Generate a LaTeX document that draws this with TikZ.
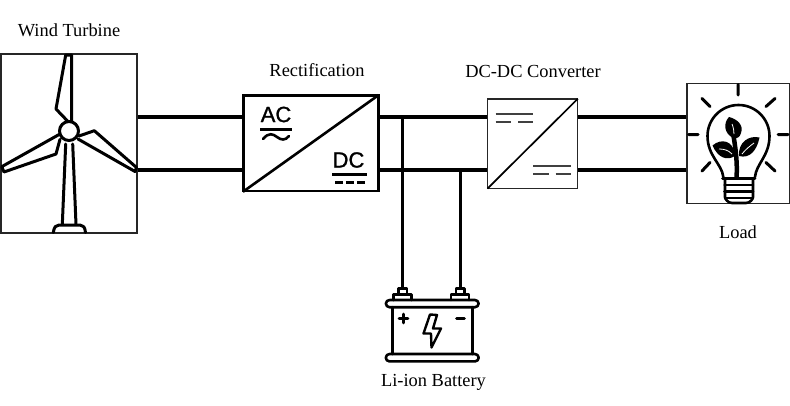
\documentclass[tikz,border=0pt]{standalone}
\usepackage{fontspec}
\setmainfont{Liberation Serif}
\newfontfamily\codefont[FakeBold=1.2]{Liberation Sans}
\begin{document}
\begin{tikzpicture}[x=1pt,y=-1pt,
  label text/.style={font=\fontsize{18.4}{20}\selectfont,inner sep=0pt},
  unit/.style={draw=black!85,line width=1.5pt},
  bus/.style={line width=3.6pt,black},
  drop/.style={line width=3pt,black},
  icon/.style={line width=2.6pt,black,line cap=round,line join=round},
  turbine/.style={line width=3pt,black,line cap=round,line join=round},
  thinicon/.style={line width=1.7pt,black!75},
  code/.style={font=\codefont\fontsize{22}{22}\selectfont,inner sep=0pt}]
\useasboundingbox (0,0) rectangle (790,405);
\fill[white] (0,0) rectangle (790,405);
% boxes
\node[unit,inner sep=0pt,minimum width=136pt,minimum height=179pt] (wt) at (69,143.5) {};
\node[draw,line width=2.6pt,inner sep=0pt,minimum width=135pt,minimum height=95.5pt] (rect) at (310.8,143.4) {};
\node[unit,inner sep=0pt,minimum width=90pt,minimum height=89.5pt] (conv) at (532.7,143.6) {};
\node[unit,inner sep=0pt,minimum width=102.5pt,minimum height=120pt] (load) at (738,143.3) {};
\coordinate (t1) at (402.5,288); \coordinate (t2) at (460.5,288);
\coordinate (j1) at (402.5,117); \coordinate (j2) at (460.5,170);
% buses
\draw[bus] (wt.east|-0,117) -- (rect.west|-0,117);
\draw[bus] (wt.east|-0,170) -- (rect.west|-0,170);
\draw[bus] (rect.east|-0,117) -- (conv.west|-0,117);
\draw[bus] (rect.east|-0,170) -- (conv.west|-0,170);
\draw[bus] (conv.east|-0,117) -- (load.west|-0,117);
\draw[bus] (conv.east|-0,170) -- (load.west|-0,170);
\draw[drop] (j1) -- (t1);
\draw[drop] (j2) -- (t2);
% turbine
\draw[turbine] (69,131) circle (9.5);
\draw[turbine] (71.7,55) -- (71.7,121) (71.7,55) -- (65.7,55) -- (56,109) -- (67.5,121);
\draw[turbine] (78,139) -- (135,171.5) -- (136.5,167.5) -- (94.3,130.7) -- (79,136);
\draw[turbine] (60,134) -- (1.7,166.7) -- (4,172) -- (56,154) -- (60,139.3);
\draw[turbine] (65.7,144) -- (62.3,224.5) (72.7,144) -- (76,224.5);
\draw[turbine] (53.3,232.5) .. controls (54,227) and (56,225) .. (59,225) -- (80,225) .. controls (83,225) and (85,227) .. (85.5,232.5);
% rectifier
\draw[line width=2.6pt,shorten <=1.2pt,shorten >=1.2pt] (rect.south west) -- (rect.north east);
\node[code] (ac) at (276,114.5) {AC};
\node[code] (dc) at (348.5,160) {DC};
\draw[line width=2.6pt] (260,129.3) -- (292,129.3);
\draw[line width=2.6pt,line cap=round] (263,139) .. controls (269,132) and (273,134) .. (277,137) .. controls (281,140) and (285,141) .. (289,136);
\draw[line width=2.6pt] (332,174.3) -- (367,174.3);
\draw[line width=2.6pt] (335,182.7) -- (343,182.7) (346,182.7) -- (354,182.7) (357,182.7) -- (365,182.7);
% converter
\draw[line width=1.7pt,shorten <=0.8pt,shorten >=0.8pt] (conv.south west) -- (conv.north east);
\draw[thinicon] (495.7,114) -- (533.3,114) (495.7,121.7) -- (511,121.7) (518,121.7) -- (533.3,121.7);
\draw[thinicon] (533.3,166) -- (570.7,166) (533.3,174) -- (549,174) (555.5,174) -- (570.7,174);
% battery
\draw[icon] (398.5,288.5) rectangle (407,294.5);
\draw[icon] (393.5,300) -- (393.5,294.5) -- (411.5,294.5) -- (411.5,300);
\draw[icon] (456,288.5) rectangle (464.5,294.5);
\draw[icon] (451,300) -- (451,294.5) -- (469,294.5) -- (469,300);
\draw[icon] (389.5,300) -- (475,300) arc (-90:90:3.6) -- (389.5,307.2) arc (90:270:3.6) -- cycle;
\draw[icon] (392.5,307.2) -- (392.5,354) (472.3,307.2) -- (472.3,354);
\draw[icon] (389.5,354) -- (475,354) arc (-90:90:3.7) -- (389.5,361.4) arc (90:270:3.7) -- cycle;
\draw[icon] (399,318.5) -- (408,318.5) (403.5,314) -- (403.5,323) (456.5,318.5) -- (464.5,318.5);
\draw[line width=2.4pt,line join=round] (430,314.5) -- (423.5,333.5) -- (431,333.5) -- (431.5,347.5) -- (441,328.5) -- (433,328.5) -- (437,315) -- cycle;
% bulb
\draw[icon] (723.3,177) .. controls (722,164) and (707.5,156) .. (707.5,136) arc (180:360:31) .. controls (769.5,156) and (756,164) .. (755,177);
\draw[icon] (722.5,178.5) -- (755,178.5) (724.5,185) -- (753,185) (724.5,191.7) -- (753,191.7);
\draw[icon] (725,178.5) -- (725,197) .. controls (725,199) and (728,203) .. (732,203) -- (746,203) .. controls (750,203) and (753,199) .. (753,197) -- (753,178.5);
\draw[icon] (725,197.8) -- (753,197.8);
\draw[icon,line width=3pt] (738,84.5) -- (738,95) (702,98.5) -- (710,106.5) (775,98.5) -- (766,106.5) (688.5,134.5) -- (698,134.5) (778,134.5) -- (788,134.5) (710,162.5) -- (702,171) (766,162.5) -- (775,171);
\draw[line width=4.5pt] (736.5,177) .. controls (737.5,165) and (736,150) .. (733,133);
\fill (733.5,138) .. controls (724,134) and (723,123) .. (729,117) .. controls (737,119) and (744,125) .. (741,133) .. controls (740,137) and (737,139) .. (733.5,138) -- cycle;
\fill (735,156) .. controls (727,161) and (718,158) .. (712.5,145.5) .. controls (721,138) and (734,140) .. (735,156) -- cycle;
\fill (739,156) .. controls (738,142) and (749,135) .. (759.5,137.5) .. controls (757,150) and (750,159) .. (739,156) -- cycle;
\draw[white,line width=0.8pt] (732,124) .. controls (733.5,128) and (734,131) .. (734,134);
\draw[white,line width=0.8pt] (719,149) .. controls (724,149) and (728,150) .. (732,154);
\draw[white,line width=0.8pt] (754,143) .. controls (750,146) and (746,149) .. (742,154);
% labels
\node[label text] (lwt) at (69,30) {Wind Turbine};
\node[label text] (lr) at (317,70) {Rectification};
\node[label text] (lc) at (533,71) {DC-DC Converter};
\node[label text] (ll) at (738,232) {Load};
\node[label text] (lb) at (433.5,382) {Li-ion Battery};
\end{tikzpicture}
\end{document}
